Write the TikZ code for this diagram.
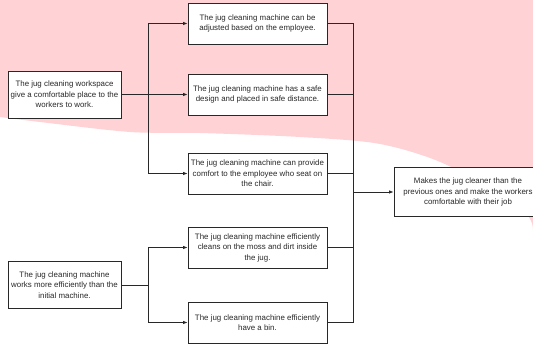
\documentclass[tikz,border=0pt]{standalone}
\usepackage{fontspec}
\setmainfont{Liberation Sans}
\usetikzlibrary{arrows.meta}
\definecolor{pinkbg}{RGB}{255,210,213}
\definecolor{ink}{RGB}{40,40,40}
\tikzset{
  box/.style={draw=ink, fill=white, line width=0.8pt, align=center, inner sep=2pt,
    minimum width=139pt, minimum height=41pt, text=ink,
    font=\fontsize{7.9}{10.5}\selectfont},
  cause/.style={box, minimum width=113pt, minimum height=47pt},
  arr/.style={-{Latex[length=4.5pt,width=3.5pt]}},
  wire/.style={draw=ink, line width=0.8pt}
}
\begin{document}
\begin{tikzpicture}[x=1pt,y=-1pt]
    \useasboundingbox (0,0) rectangle (533,344);
    % Fond rose
    \fill[pinkbg] (0,0) -- (533,0) -- plot[smooth] coordinates {(533,230) (522,210) (447,165) (380,144) (300,137) (200,133) (130,132) (40,122) (0,117)} -- cycle;

    % Causes
    \node[cause] (work) at (64.5,94.5) {The jug cleaning workspace\\give a comfortable place to the\\workers to work.};
    \node[cause] (mach) at (64.5,285) {The jug cleaning machine\\works more efficiently than the\\initial machine.};

    % Points
    \node[box] (adj) at (257.5,23.5) {The jug cleaning machine can be\\adjusted based on the employee.};
    \node[box] (safe) at (257.5,94.5) {The jug cleaning machine has a safe\\design and placed in safe distance.};
    \node[box] (chair) at (257.5,173.5) {The jug cleaning machine can provide\\comfort to the employee who seat on\\the chair.};
    \node[box] (moss) at (257.5,247.5) {The jug cleaning machine efficiently\\cleans on the moss and dirt inside\\the jug.};
    \node[box] (bin) at (257.5,322.5) {The jug cleaning machine efficiently\\have a bin.};

    % Resultat
    \node[box, minimum width=148pt, minimum height=49pt] (result) at (468,192) {Makes the jug cleaner than the\\previous ones and make the workers\\comfortable with their job};

    % Lignes de branchement
    \coordinate (s1) at (148,0);
    \coordinate (s2) at (353,0);
    \draw[wire,arr] (work.east) -- (safe.west);
    \draw[wire,arr] (work.east -| s1) |- (adj.west);
    \draw[wire,arr] (work.east -| s1) |- (chair.west);
    \draw[wire,arr] (mach.east) -| (s1 |- moss.west) -- (moss.west);
    \draw[wire,arr] (mach.east -| s1) |- (bin.west);

    % Vers le resultat
    \foreach \b in {adj,safe,chair,moss,bin}
        \draw[wire] (\b.east) -| (result.west -| s2);
    \draw[wire,arr] (result.west -| s2) -- (result.west);
\end{tikzpicture}
\end{document}
